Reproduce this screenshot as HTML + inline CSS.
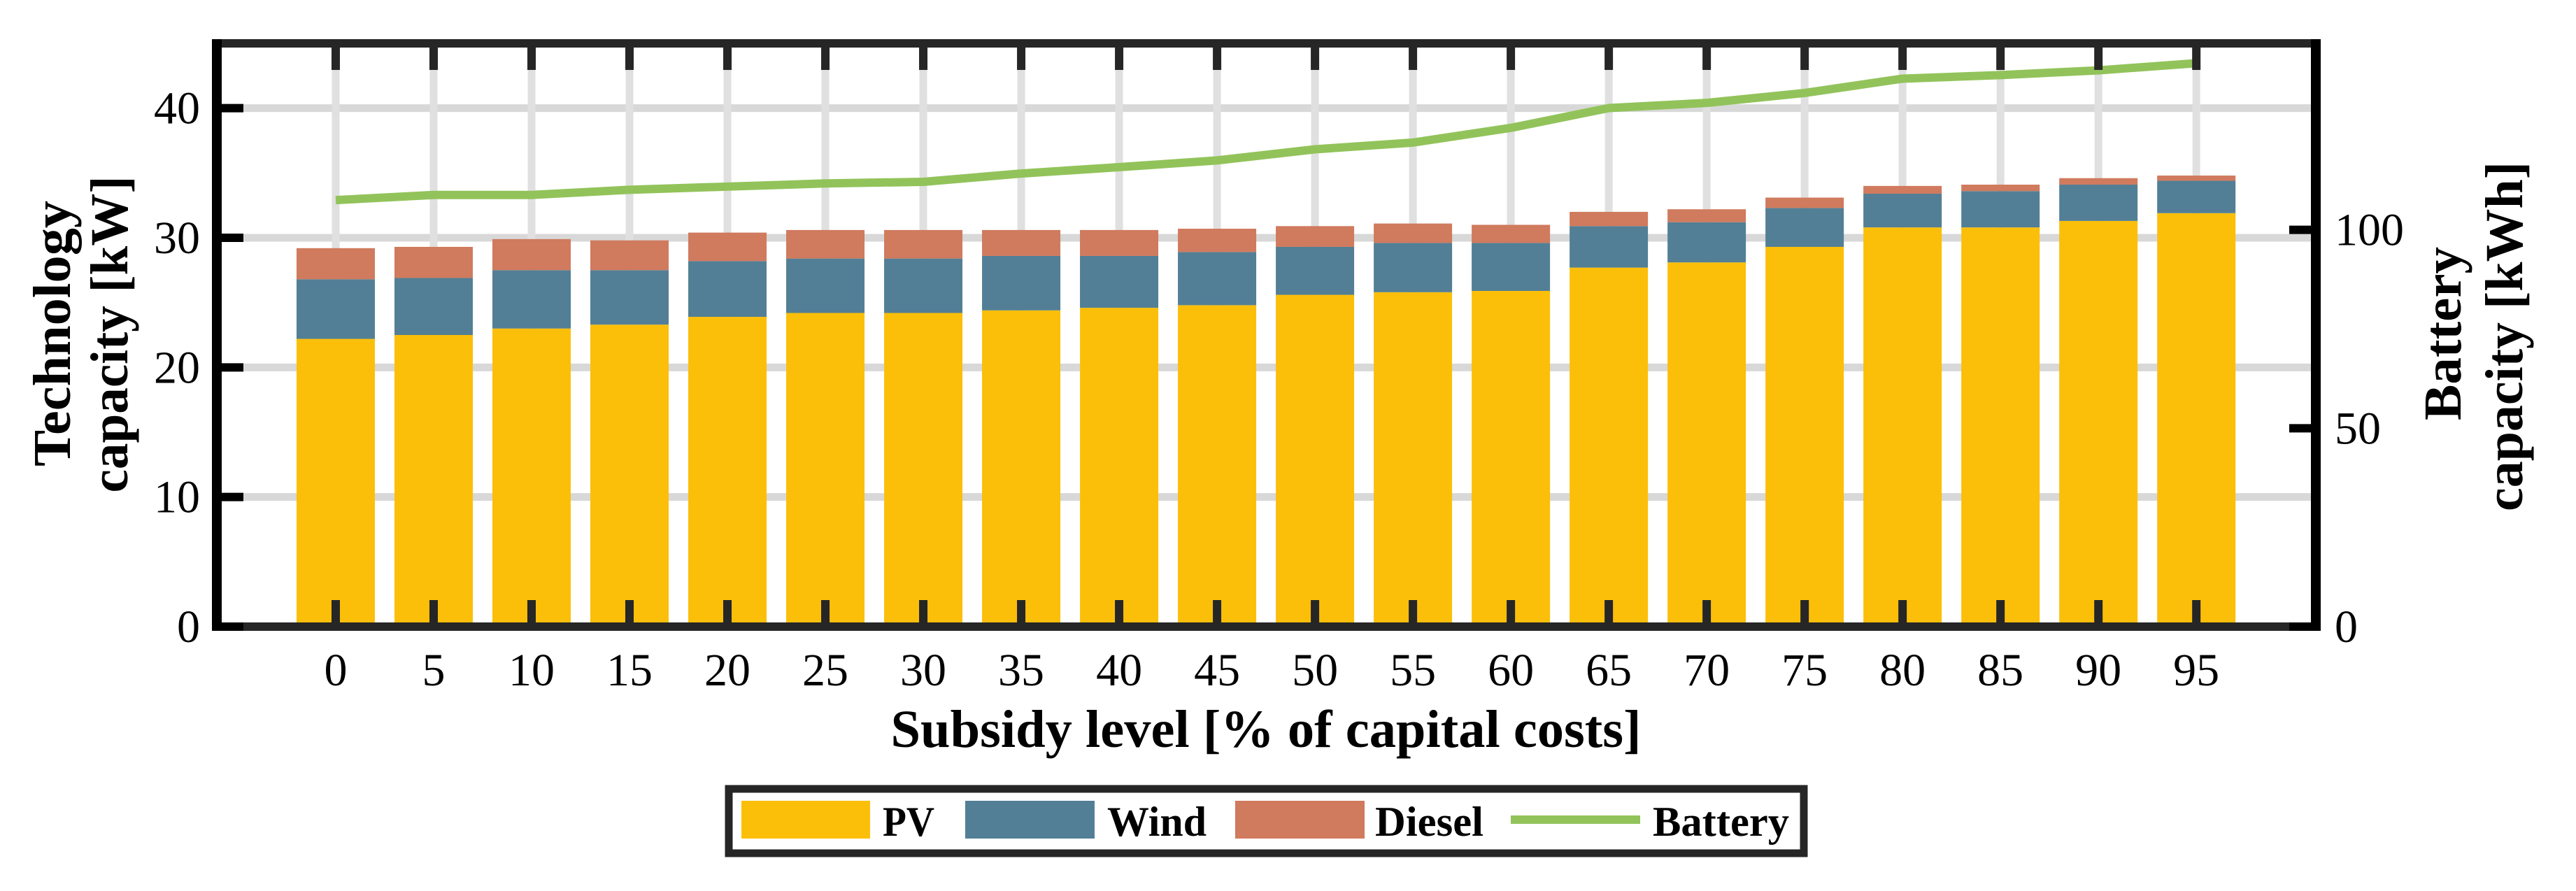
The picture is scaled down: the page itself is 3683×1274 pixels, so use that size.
<!DOCTYPE html>
<html><head><meta charset="utf-8"><style>
html,body{margin:0;padding:0;background:#fff}
svg{display:block}
text{font-family:"Liberation Serif","DejaVu Serif",serif;fill:#000}
</style></head><body>
<svg id="chart" width="3683" height="1274" viewBox="0 0 3683 1274" xmlns="http://www.w3.org/2000/svg">
<g id="grid"></g>
<g id="bars"></g>
<g id="line"></g>
<g id="axes"></g>
<text x="1810" y="1068" font-size="76" font-weight="bold" text-anchor="middle" textLength="1073" lengthAdjust="spacingAndGlyphs">Subsidy level [% of capital costs]</text>
<text transform="translate(100,477) rotate(-90)" font-size="76" font-weight="bold" text-anchor="middle" textLength="380" lengthAdjust="spacingAndGlyphs">Technology</text>
<text transform="translate(182,478) rotate(-90)" font-size="76" font-weight="bold" text-anchor="middle" textLength="453" lengthAdjust="spacingAndGlyphs">capacity [kW]</text>
<text transform="translate(3518,477) rotate(-90)" font-size="76" font-weight="bold" text-anchor="middle" textLength="248" lengthAdjust="spacingAndGlyphs">Battery</text>
<text transform="translate(3606,481) rotate(-90)" font-size="76" font-weight="bold" text-anchor="middle" textLength="500" lengthAdjust="spacingAndGlyphs">capacity [kWh]</text>
<g>
<rect x="1042" y="1128" width="1537" height="92" fill="#fff" stroke="#262626" stroke-width="11"/>
<rect x="1060" y="1145" width="184" height="54" fill="#FBBF0A"/>
<text x="1262" y="1195" font-size="60" font-weight="bold" textLength="74" lengthAdjust="spacingAndGlyphs">PV</text>
<rect x="1380" y="1145" width="185" height="54" fill="#527F95"/>
<text x="1583" y="1195" font-size="60" font-weight="bold" textLength="142" lengthAdjust="spacingAndGlyphs">Wind</text>
<rect x="1766" y="1145" width="185" height="54" fill="#D07A5E"/>
<text x="1966" y="1195" font-size="60" font-weight="bold" textLength="155" lengthAdjust="spacingAndGlyphs">Diesel</text>
<line x1="2160" y1="1172" x2="2345" y2="1172" stroke="#92C35A" stroke-width="12"/>
<text x="2363" y="1195" font-size="60" font-weight="bold" textLength="195" lengthAdjust="spacingAndGlyphs">Battery</text>
</g>
</svg>
<script>
const categories = [0,5,10,15,20,25,30,35,40,45,50,55,60,65,70,75,80,85,90,95];
const pv = [22.2,22.5,23.0,23.3,23.9,24.2,24.2,24.4,24.6,24.8,25.6,25.8,25.9,27.7,28.1,29.3,30.8,30.8,31.3,31.9];
const wind = [4.6,4.4,4.5,4.2,4.3,4.2,4.2,4.2,4.0,4.1,3.7,3.8,3.7,3.2,3.1,3.0,2.6,2.8,2.8,2.5];
const diesel = [2.4,2.4,2.4,2.3,2.2,2.2,2.2,2.0,2.0,1.8,1.6,1.5,1.4,1.1,1.0,0.8,0.6,0.5,0.5,0.4];
const battery = [107.5,108.8,108.8,110.1,110.9,111.7,112.1,114.2,115.8,117.5,120.3,122,125.7,130.7,132,134.5,138.1,139,140.2,142];
const leftTicks = [0,10,20,30,40];
const rightTicks = [0,50,100];

const NS='http://www.w3.org/2000/svg';
const L=310,R=3311,T=62,B=896;
const xMin=-6.07,xMax=101.1,yMax=45,y2Max=147;
const xs=v=>L+(v-xMin)/(xMax-xMin)*(R-L);
const ys=v=>B-v/yMax*(B-T);
const y2s=v=>B-v/y2Max*(B-T);
function mk(tag,attrs,parent){const e=document.createElementNS(NS,tag);for(const k in attrs)e.setAttribute(k,attrs[k]);parent.appendChild(e);return e;}
const grid=document.getElementById('grid'),bars=document.getElementById('bars'),lineG=document.getElementById('line'),axes=document.getElementById('axes');
leftTicks.forEach(t=>{if(t===0)return;const g=mk('line',{x1:L,x2:R,y1:ys(t),y2:ys(t),stroke:'#d8d8d8','stroke-width':11},grid);

});
categories.forEach(c=>{const g=mk('line',{x1:xs(c),x2:xs(c),y1:T,y2:B,stroke:'#e0e0e0','stroke-width':11},grid);

});
const bw=112;
categories.forEach((c,i)=>{
 const x=xs(c)-bw/2;
 const a=mk('rect',{x:x,y:ys(pv[i]),width:bw,height:ys(0)-ys(pv[i]),fill:'#FBBF0A'},bars);
 
 
 const b=mk('rect',{x:x,y:ys(pv[i]+wind[i]),width:bw,height:ys(pv[i])-ys(pv[i]+wind[i]),fill:'#527F95'},bars);
 
 
 const d=mk('rect',{x:x,y:ys(pv[i]+wind[i]+diesel[i]),width:bw,height:ys(pv[i]+wind[i])-ys(pv[i]+wind[i]+diesel[i]),fill:'#D07A5E'},bars);
 
 
});
const pts=categories.map((c,i)=>xs(c)+','+y2s(battery[i])).join(' ');
const pl=mk('polyline',{points:pts,fill:'none',stroke:'#92C35A','stroke-width':12,'stroke-linejoin':'round'},lineG);


const frame=mk('rect',{x:L,y:T,width:R-L,height:B-T,fill:'none',stroke:'#262626','stroke-width':12},axes);


categories.forEach(c=>{
 const t1=mk('line',{x1:xs(c),x2:xs(c),y1:T,y2:T+38,stroke:'#262626','stroke-width':12},axes);
 
 
 const t2=mk('line',{x1:xs(c),x2:xs(c),y1:B,y2:B-38,stroke:'#262626','stroke-width':12},axes);
 
 
 const lb=mk('text',{x:xs(c),y:980,'font-size':66,'text-anchor':'middle',fill:'#262626'},axes);
 lb.textContent=c;
 
 
});
leftTicks.forEach(t=>{
 const tk=mk('line',{x1:L,x2:L+38,y1:ys(t),y2:ys(t),stroke:'#000','stroke-width':12},axes);
 
 
 const lb=mk('text',{x:286,y:ys(t)+22,'font-size':66,'text-anchor':'end'},axes);
 lb.textContent=t;
 
 
});
rightTicks.forEach(t=>{
 const tk=mk('line',{x1:R,x2:R-38,y1:y2s(t),y2:y2s(t),stroke:'#000','stroke-width':12},axes);
 
 
 const lb=mk('text',{x:3338,y:y2s(t)+22,'font-size':66,'text-anchor':'start'},axes);
 lb.textContent=t;
 
 
});
const lax=mk('line',{x1:L,x2:L,y1:T-6,y2:B+6,stroke:'#000','stroke-width':14},axes);


const rax=mk('line',{x1:R,x2:R,y1:T-6,y2:B+6,stroke:'#000','stroke-width':14},axes);


</script>
</body></html>
